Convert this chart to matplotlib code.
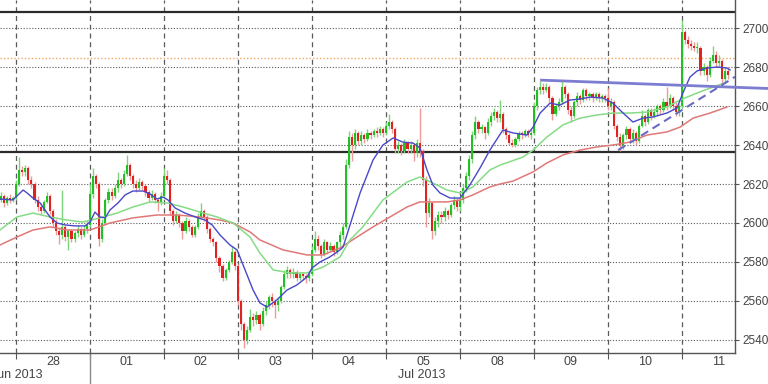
import matplotlib

matplotlib.use("Agg")

import matplotlib.pyplot as plt
import numpy as np
from matplotlib.lines import Line2D

# hourly bars; hour 0 = 28 Jun 00:00, weekend hours removed
first_bar_hour = -5
first_open = 2612

closes = [
    2614, 2610, 2613, 2612, 2613,
    # 28 Jun
    2620, 2627, 2626, 2628, 2622, 2620, 2612, 2608, 2606, 2611, 2614, 2606,
    2600, 2596, 2594, 2598, 2593, 2596, 2592, 2595, 2597, 2594, 2597, 2599,
    # 01 Jul
    2615, 2624, 2620, 2592, 2600, 2612, 2616, 2614, 2618, 2622, 2620, 2625,
    2630, 2624, 2620, 2618, 2621, 2619, 2616, 2613, 2615, 2612, 2610, 2614,
    # 02 Jul
    2624, 2622, 2606, 2601, 2604, 2600, 2596, 2601, 2598, 2594, 2598, 2603,
    2606, 2603, 2597, 2592, 2590, 2582, 2578, 2572, 2576, 2580, 2585, 2578,
    # 03 Jul
    2560, 2548, 2540, 2545, 2552, 2550, 2553, 2548, 2555, 2558, 2562, 2560,
    2558, 2560, 2567, 2574, 2576, 2574, 2575, 2572, 2574, 2573, 2572, 2574,
    # 04 Jul
    2586, 2592, 2588, 2584, 2590, 2586, 2588, 2585, 2590, 2594, 2598, 2630,
    2644, 2640, 2646, 2642, 2645, 2643, 2646, 2645, 2647, 2646, 2648, 2646,
    # 05 Jul
    2650, 2652, 2648, 2638, 2640, 2637, 2641, 2638, 2640, 2636, 2641, 2637,
    2622, 2605, 2610, 2596, 2601, 2604, 2603, 2606, 2604, 2609, 2612, 2608,
    # 08 Jul
    2612, 2618, 2624, 2633, 2645, 2652, 2648, 2649, 2646, 2652, 2655, 2657,
    2654, 2656, 2648, 2645, 2641, 2640, 2643, 2646, 2645, 2647, 2645, 2646,
    # 09 Jul
    2660, 2668, 2670, 2668, 2670, 2664, 2656, 2660, 2662, 2670, 2666, 2658,
    2655, 2662, 2665, 2663, 2668, 2665, 2666, 2664, 2666, 2664, 2665, 2664,
    # 10 Jul
    2660, 2662, 2650, 2644, 2640, 2645, 2648, 2643, 2646, 2642, 2650, 2655,
    2652, 2658, 2655, 2657, 2660, 2658, 2662, 2660, 2664, 2660, 2657, 2660,
    # 11 Jul
    2698, 2694, 2692, 2691, 2690, 2690, 2678, 2680, 2676, 2683, 2686, 2682,
    2683, 2674, 2678, 2676,
]

highs = [
    2616, 2615, 2614, 2615, 2614,
    2622, 2634, 2629, 2630, 2629, 2624, 2621, 2614, 2610, 2612, 2616, 2615,
    2607, 2602, 2598, 2617, 2599, 2597, 2597, 2596, 2599, 2598, 2599, 2601,
    2620, 2628, 2625, 2621, 2602, 2613, 2618, 2618, 2620, 2626, 2623, 2627,
    2635, 2631, 2625, 2622, 2623, 2622, 2620, 2617, 2617, 2616, 2613, 2616,
    2628, 2627, 2623, 2607, 2606, 2605, 2601, 2603, 2602, 2599, 2599, 2605,
    2610, 2607, 2604, 2598, 2593, 2591, 2583, 2579, 2577, 2581, 2588, 2586,
    2579, 2561, 2549, 2547, 2556, 2554, 2555, 2554, 2557, 2560, 2563, 2564,
    2561, 2562, 2568, 2576, 2578, 2577, 2577, 2576, 2575, 2575, 2574, 2575,
    2588, 2596, 2594, 2589, 2592, 2591, 2590, 2589, 2591, 2596, 2600, 2633,
    2647, 2646, 2648, 2647, 2647, 2646, 2648, 2647, 2648, 2649, 2650, 2649,
    2652, 2656, 2653, 2649, 2642, 2641, 2643, 2642, 2642, 2641, 2643, 2659,
    2638, 2624, 2613, 2611, 2603, 2606, 2606, 2608, 2607, 2610, 2614, 2613,
    2614, 2620, 2626, 2635, 2647, 2655, 2653, 2651, 2650, 2654, 2657, 2659,
    2658, 2663, 2657, 2649, 2646, 2643, 2644, 2647, 2647, 2648, 2648, 2648,
    2662, 2670, 2673, 2672, 2672, 2671, 2665, 2661, 2664, 2673, 2671, 2667,
    2660, 2663, 2667, 2666, 2669, 2669, 2667, 2667, 2667, 2667, 2666, 2666,
    2669, 2664, 2663, 2651, 2646, 2646, 2650, 2649, 2648, 2647, 2651, 2658,
    2656, 2659, 2659, 2659, 2661, 2661, 2664, 2670, 2666, 2665, 2662, 2661,
    2704, 2699, 2696, 2694, 2693, 2693, 2691, 2682, 2681, 2685, 2691, 2688,
    2686, 2684, 2680, 2680,
]

lows = [
    2611, 2608, 2609, 2610, 2611,
    2612, 2619, 2624, 2624, 2620, 2618, 2610, 2606, 2604, 2605, 2610, 2604,
    2598, 2594, 2589, 2592, 2591, 2586, 2590, 2590, 2593, 2592, 2593, 2595,
    2598, 2613, 2618, 2588, 2590, 2599, 2610, 2612, 2613, 2616, 2618, 2619,
    2624, 2622, 2618, 2616, 2617, 2617, 2614, 2611, 2612, 2610, 2606, 2609,
    2613, 2620, 2604, 2599, 2600, 2598, 2592, 2595, 2596, 2593, 2593, 2597,
    2602, 2601, 2595, 2590, 2588, 2580, 2575, 2570, 2571, 2575, 2579, 2576,
    2558, 2545, 2536, 2538, 2544, 2547, 2548, 2545, 2547, 2553, 2556, 2557,
    2551, 2555, 2559, 2566, 2572, 2572, 2572, 2570, 2571, 2571, 2569, 2570,
    2573, 2585, 2586, 2582, 2583, 2584, 2585, 2583, 2584, 2588, 2592, 2597,
    2628, 2632, 2638, 2640, 2640, 2641, 2642, 2643, 2644, 2644, 2645, 2644,
    2645, 2648, 2646, 2636, 2636, 2635, 2636, 2636, 2636, 2632, 2634, 2634,
    2619, 2598, 2603, 2592, 2594, 2598, 2600, 2601, 2602, 2603, 2607, 2606,
    2606, 2610, 2616, 2622, 2631, 2643, 2646, 2646, 2643, 2645, 2650, 2653,
    2652, 2652, 2646, 2643, 2640, 2639, 2639, 2642, 2643, 2644, 2644, 2643,
    2645, 2658, 2666, 2666, 2667, 2662, 2653, 2655, 2658, 2661, 2664, 2656,
    2652, 2654, 2660, 2661, 2662, 2663, 2663, 2662, 2663, 2662, 2662, 2662,
    2658, 2658, 2648, 2642, 2637, 2638, 2643, 2641, 2641, 2640, 2641, 2649,
    2650, 2651, 2653, 2654, 2655, 2656, 2657, 2658, 2659, 2658, 2655, 2655,
    2659, 2692, 2690, 2689, 2688, 2687, 2676, 2676, 2673, 2675, 2682, 2680,
    2680, 2670, 2672, 2674,
]

# moving averages at irregular hours
fast_ma_hours = [
    -5.2, -1, 2.3, 3.6, 5.5, 7.8, 9.4, 11, 13.3, 15.9, 19.1, 22.4, 24, 25.6,
    27.2, 28.9, 30.5, 33.1, 35.4, 37.9, 41.2, 43.5, 45.7, 47.7, 49.3, 51.6,
    54.8, 58.1, 61.3, 63.6, 66.2, 69.4, 71.7, 74.3, 76.9, 79.1, 81.4, 84.6,
    87.9, 91.1, 94.4, 96, 98.6, 101.8, 105.1, 106.1, 111.6, 115.8, 119, 122.3,
    125.5, 128.8, 131, 133.3, 135.2, 137.5, 140.8, 144, 147.2, 150.5, 153.7,
    157.9, 161.2, 165.7, 167.7, 170, 173.2, 176.4, 179.7, 182.9, 186.2, 190.4,
    193.6, 196.9, 200.1, 203.4, 206.6, 211.1, 214.4, 216.3, 218.6, 220.9,
    224.1, 227.4, 230.6, 231.6,
]
fast_ma = [
    2612.3, 2611.8, 2616.9, 2615.4, 2612.8, 2610.3, 2606.7, 2603.1, 2600.0,
    2599.0, 2598.5, 2598.5, 2600.5, 2605.6, 2603.1, 2602.6, 2606.7, 2610.3,
    2614.4, 2616.4, 2616.4, 2614.9, 2612.3, 2613.3, 2611.8, 2607.7, 2605.1,
    2603.1, 2601.5, 2599.0, 2593.8, 2588.7, 2586.2, 2575.9, 2565.6, 2559.0,
    2556.9, 2560.5, 2565.6, 2568.2, 2572.3, 2576.9, 2580.0, 2582.6, 2586.2,
    2587.7, 2615.4, 2632.3, 2640.0, 2643.6, 2641.5, 2641.0, 2638.5, 2627.2,
    2619.5, 2615.4, 2612.8, 2612.8, 2619.5, 2628.2, 2637.4, 2647.7, 2646.2,
    2645.1, 2649.2, 2656.4, 2661.5, 2660.5, 2663.1, 2663.6, 2664.6, 2664.1,
    2661.5, 2656.4, 2651.8, 2653.8, 2654.4, 2656.4, 2659.0, 2666.7, 2674.9,
    2678.0, 2679.5, 2680.0, 2679.5, 2678.5,
]

mid_ma_hours = [
    -5.2, 0.3, 5.5, 11, 16.5, 21.7, 27.2, 32.8, 37.9, 43.5, 49, 54.2, 59.7,
    65.2, 70.4, 75.9, 79.1, 83.4, 88.9, 94.4, 99.6, 105.1, 108.3, 112.5, 119,
    126.8, 131, 135.2, 139.8, 144, 148.2, 153.7, 157, 164.4, 167.7, 172.2,
    177.4, 182.9, 188.4, 193.6, 199.1, 204.6, 211.1, 215.4, 220.9, 226, 230.6,
]
mid_ma = [
    2596.4, 2603.1, 2605.1, 2603.1, 2601.5, 2600.5, 2602.6, 2605.1, 2608.2,
    2610.8, 2610.3, 2608.2, 2605.6, 2603.1, 2600.0, 2592.8, 2584.6, 2575.9,
    2574.4, 2574.4, 2577.4, 2582.6, 2591.3, 2598.0, 2611.8, 2621.0, 2623.6,
    2620.5, 2616.9, 2615.4, 2618.5, 2627.2, 2629.7, 2633.8, 2637.4, 2644.1,
    2650.3, 2653.8, 2655.4, 2656.4, 2656.4, 2656.9, 2659.5, 2663.1, 2666.7,
    2669.7, 2672.3,
]

slow_ma_hours = [
    -5.2, 0.3, 5.5, 11, 16.5, 24, 30.5, 37.9, 45.7, 52.2, 59.7, 66.2, 70.4,
    75.9, 79.1, 86.6, 94.4, 99.6, 105.1, 110.6, 115.8, 121.3, 126.8, 131,
    135.2, 139.8, 144, 148.2, 153.7, 157, 161.2, 167.7, 172.2, 177.4, 182.9,
    188.4, 193.6, 199.1, 204.6, 211.1, 215.4, 219.6, 225.1, 230.6,
]
slow_ma = [
    2588.7, 2592.8, 2596.4, 2598.0, 2596.4, 2596.4, 2600.0, 2602.6, 2604.1,
    2604.1, 2603.1, 2601.5, 2600.0, 2595.4, 2591.3, 2586.2, 2583.6, 2583.6,
    2587.2, 2592.8, 2598.0, 2603.1, 2608.2, 2610.8, 2610.8, 2610.8, 2611.8,
    2614.4, 2618.5, 2620.0, 2621.5, 2626.2, 2630.8, 2634.9, 2637.4, 2639.0,
    2640.0, 2641.5, 2645.1, 2646.7, 2649.2, 2653.8, 2656.4, 2659.5,
]

# drawn levels and trend lines
level_lines = [2708.2, 2636.4]
pivot_level = 2684.6
resistance_hours = [170, 244]
resistance_prices = [2673.3, 2669.0]
support_hours = [195.3, 233.2]
support_prices = [2637.4, 2675.0]

day_labels = ["28", "01", "02", "03", "04", "05", "08", "09", "10", "11"]
month_labels = ["Jun 2013", "Jul 2013"]
month_label_hours = [0.3, 131.7]

TEXT = "#444444"
GRID = "#5a5a5a"

fig = plt.figure(figsize=(7.68, 3.84), dpi=100)
ax = fig.add_axes([0, 1 - 353 / 384, 735 / 768, 353 / 384])
ax.set_xlim(-5.19, 233.2)
ax.set_ylim(2533.3, 2714.4)

# grid
day_starts = np.arange(len(day_labels)) * 24
for h in day_starts:
    ax.axvline(h, color=GRID, lw=0.9, dashes=(4, 3), zorder=1)
ax.set_yticks(np.arange(2540, 2701, 20))
ax.yaxis.grid(True, color=GRID, lw=0.8, linestyle=(0, (1, 1.6)), zorder=1)

for level in level_lines:
    ax.axhline(level, color="#2b2b2b", lw=1.6, zorder=2)
ax.axhline(pivot_level, color="#f0a860", lw=1.0, linestyle=(0, (1, 1.5)), zorder=2)

# candles
c = np.array(closes, dtype=float)
hi = np.array(highs, dtype=float)
lo = np.array(lows, dtype=float)
o = np.r_[first_open, c[:-1]]
hours = np.arange(len(c)) + first_bar_hour
up = c >= o
wick_colors = np.where(up, "#7ed47e", "#ee9a9a")
body_colors = np.where(up, "#22c022", "#e02222")
ax.vlines(hours, lo, hi, colors=wick_colors, lw=1.0, zorder=3)
ax.bar(hours, np.maximum(np.abs(c - o), 0.5), bottom=np.minimum(o, c),
       width=0.7, color=body_colors, linewidth=0, zorder=4)

# moving averages
ax.plot(slow_ma_hours, slow_ma, color="#e07878", lw=1.1, zorder=5)
ax.plot(mid_ma_hours, mid_ma, color="#86dc86", lw=1.1, zorder=5)
ax.plot(fast_ma_hours, fast_ma, color="#4848c8", lw=1.0, zorder=6)

# trend lines
ax.plot(resistance_hours, resistance_prices, color="#7c7cd0", lw=2.0,
        solid_capstyle="butt", clip_on=False, zorder=7)
ax.plot(support_hours, support_prices, color="#6a6ac4", lw=1.5,
        dashes=(4, 2.5), zorder=7)

# axes styling
for side in ("top", "left"):
    ax.spines[side].set_visible(False)
for side in ("bottom", "right"):
    ax.spines[side].set_color("#555555")
    ax.spines[side].set_linewidth(1.0)

ax.yaxis.tick_right()
ax.tick_params(axis="y", direction="out", length=3, width=0.8, color="#555555",
               labelsize=8.5, labelcolor=TEXT, pad=2)
for label in ax.get_yticklabels():
    label.set_family("Liberation Sans")

ax.set_xticks(day_starts)
ax.set_xticklabels([])
ax.tick_params(axis="x", direction="out", length=4, width=0.8, color="#555555")

for h, text in zip(day_starts + 12, day_labels):
    ax.text(h, -9 / 353, text, transform=ax.get_xaxis_transform(),
            ha="center", va="center", fontsize=9, color=TEXT,
            family="Liberation Sans", clip_on=False)
for h, text in zip(month_label_hours, month_labels):
    ax.text(h, -22 / 353, text, transform=ax.get_xaxis_transform(),
            ha="center", va="center", fontsize=9, color=TEXT,
            family="Liberation Sans", clip_on=False)

# month separator under the axis
ax.add_line(Line2D([24, 24], [0, -31 / 353], transform=ax.get_xaxis_transform(),
                   color="#8a8a8a", lw=1.0, clip_on=False))

fig.savefig("out.png", dpi=100)
plt.close(fig)
